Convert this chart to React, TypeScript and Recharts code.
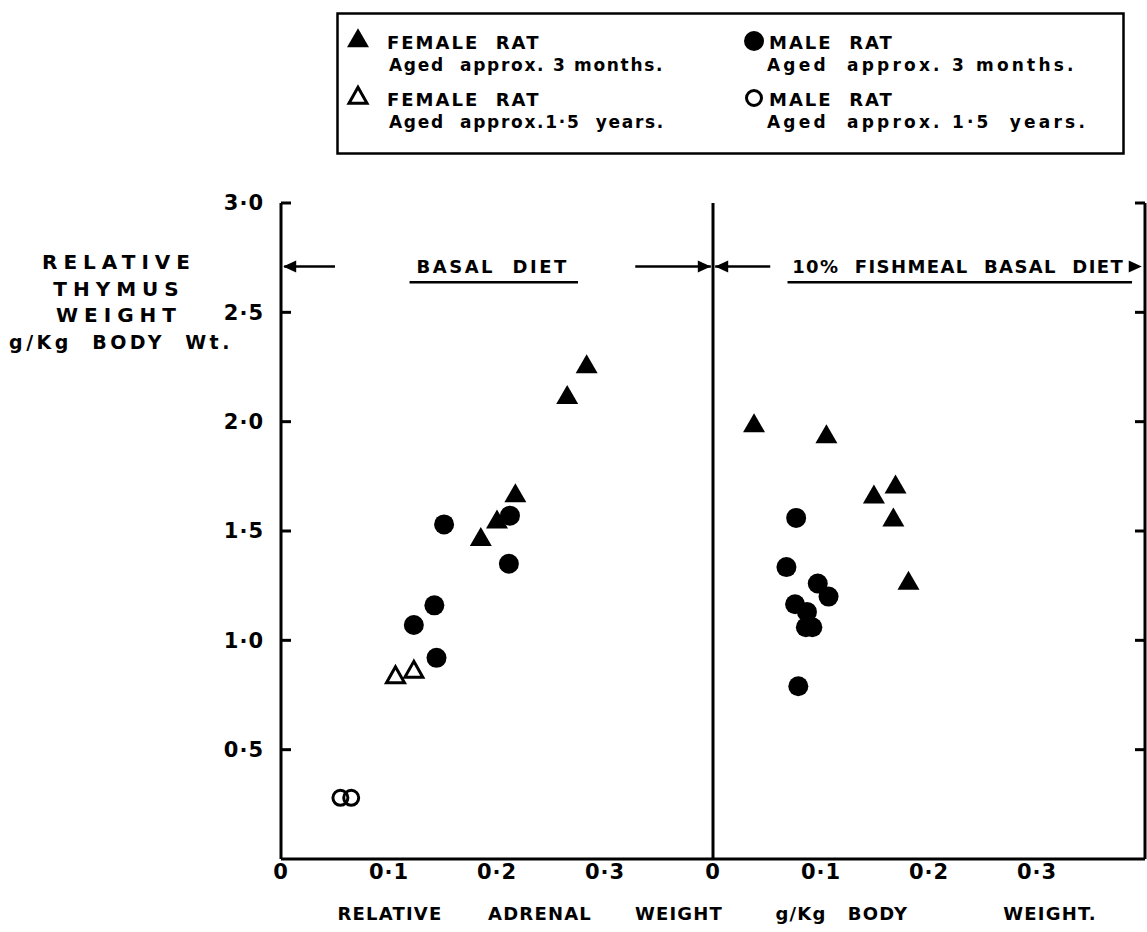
import React from 'react';
import { ScatterChart, Scatter, XAxis, YAxis, ReferenceLine, ReferenceDot, Legend } from 'recharts';

// ---- data (x = relative adrenal weight g/Kg, y = relative thymus weight g/Kg) ----
// panel offset: the fishmeal panel starts where the basal panel's axis ends
const PANEL_OFFSET = 0.4;

const basalFemaleYoung = [
  { x: 0.283, y: 2.25 },
  { x: 0.265, y: 2.11 },
  { x: 0.217, y: 1.66 },
  { x: 0.2, y: 1.54 },
  { x: 0.185, y: 1.46 },
];
const basalMaleYoung = [
  { x: 0.151, y: 1.53 },
  { x: 0.212, y: 1.57 },
  { x: 0.211, y: 1.35 },
  { x: 0.142, y: 1.16 },
  { x: 0.123, y: 1.07 },
  { x: 0.144, y: 0.92 },
];
const basalFemaleOld = [
  { x: 0.106, y: 0.83 },
  { x: 0.123, y: 0.855 },
];
const basalMaleOld = [
  { x: 0.055, y: 0.28 },
  { x: 0.065, y: 0.28 },
];
const fishFemaleYoung = [
  { x: 0.038, y: 1.98 },
  { x: 0.105, y: 1.93 },
  { x: 0.149, y: 1.655 },
  { x: 0.169, y: 1.7 },
  { x: 0.167, y: 1.55 },
  { x: 0.181, y: 1.26 },
];
const fishMaleYoung = [
  { x: 0.077, y: 1.56 },
  { x: 0.068, y: 1.335 },
  { x: 0.097, y: 1.26 },
  { x: 0.107, y: 1.2 },
  { x: 0.076, y: 1.165 },
  { x: 0.087, y: 1.13 },
  { x: 0.086, y: 1.06 },
  { x: 0.092, y: 1.06 },
  { x: 0.079, y: 0.79 },
];

const xTicks = [0, 0.1, 0.2, 0.3, 0.4, 0.5, 0.6, 0.7];
const xInnerTicks = [0.1, 0.2, 0.3, 0.5, 0.6, 0.7];
const yTicks = [0.5, 1, 1.5, 2, 2.5, 3];
const yLabelLines = ['RELATIVE', 'THYMUS', 'WEIGHT', 'g/Kg  BODY  Wt.'];
const xTitleWords = ['RELATIVE', 'ADRENAL', 'WEIGHT', 'g/Kg', 'BODY', 'WEIGHT.'];
const legendEntries = [
  { kind: 'ft', title: 'FEMALE  RAT', sub: 'Aged  approx. 3 months.' },
  { kind: 'fc', title: 'MALE  RAT', sub: 'Aged  approx. 3 months.' },
  { kind: 'ot', title: 'FEMALE  RAT', sub: 'Aged  approx.1·5  years.' },
  { kind: 'oc', title: 'MALE  RAT', sub: 'Aged  approx. 1·5  years.' },
];
const dietLabels = { basal: 'BASAL  DIET', fish: '10%  FISHMEAL  BASAL  DIET' };

const shift = (arr: { x: number; y: number }[]) => arr.map((p) => ({ x: p.x + PANEL_OFFSET, y: p.y }));
const femaleYoungData = [...basalFemaleYoung, ...shift(fishFemaleYoung)];
const maleYoungData = [...basalMaleYoung, ...shift(fishMaleYoung)];

const FONT = '"DejaVu Sans", sans-serif';
const INK = '#000';

const fmtNum = (v: number) => (v === 0 ? '0' : v.toFixed(1).replace('.', '·'));
const fmtX = (v: number) => fmtNum(Math.round((v >= PANEL_OFFSET - 1e-9 ? v - PANEL_OFFSET : v) * 10) / 10);
const blank = () => '';

// ---- marker shapes ----
const TRI_W = 22;
const TRI_H = 19;
const triPoints = (cx: number, cy: number, w: number, h: number) =>
  `${cx},${cy - (2 * h) / 3} ${cx - w / 2},${cy + h / 3} ${cx + w / 2},${cy + h / 3}`;

const FilledTriangle = (p: any) => <polygon points={triPoints(p.cx, p.cy, TRI_W, TRI_H)} fill={INK} />;
const OpenTriangle = (p: any) => (
  <polygon points={triPoints(p.cx, p.cy, 18, 16)} fill="#fff" stroke={INK} strokeWidth={3} strokeLinejoin="miter" />
);
const FilledCircle = (p: any) => <circle cx={p.cx} cy={p.cy} r={10} fill={INK} />;
const OpenCircle = (p: any) => <circle cx={p.cx} cy={p.cy} r={7.5} fill="none" stroke={INK} strokeWidth={3} />;

const markerFor = (kind: string, cx: number, cy: number) => {
  if (kind === 'ft') return <FilledTriangle cx={cx} cy={cy} />;
  if (kind === 'fc') return <FilledCircle cx={cx} cy={cy} />;
  if (kind === 'ot') return <OpenTriangle cx={cx} cy={cy} />;
  return <OpenCircle cx={cx} cy={cy} />;
};

// ---- legend ----
const LegendBox = () => {
  const cols = [
    { marker: 22, title: 51, sub: 53, subSpacing: 1.7 },
    { marker: 418, title: 433, sub: 431, subSpacing: 3.2 },
  ];
  const rows = [
    { title: 30, sub: 53 },
    { title: 87, sub: 110 },
  ];
  return (
    <svg width={790} height={144} style={{ display: 'block' }}>
      <rect x={1.5} y={1.5} width={786} height={140} fill="#fff" stroke={INK} strokeWidth={2.5} />
      {legendEntries.map((e, i) => {
        const c = cols[i % 2];
        const r = rows[Math.floor(i / 2)];
        return (
          <g key={i}>
            {markerFor(e.kind, c.marker, r.title - 1)}
            <text x={c.title} y={r.title + 7} fontFamily={FONT} fontWeight={700} fontSize={18} letterSpacing={2} style={{ whiteSpace: 'pre' }} fill={INK}>
              {e.title}
            </text>
            <text x={c.sub} y={r.sub + 6} fontFamily={FONT} fontWeight={700} fontSize={17} letterSpacing={c.subSpacing} style={{ whiteSpace: 'pre' }} fill={INK}>
              {e.sub}
            </text>
          </g>
        );
      })}
    </svg>
  );
};

// ---- axis titles ----
const YTitle = () => (
  <g>
    {yLabelLines.map((l, i) => (
      <text
        key={i}
        x={i === 3 ? 121 : 119}
        y={269 + i * 26.5}
        fontFamily={FONT}
        fontWeight={700}
        fontSize={i === 3 ? 19 : 20}
        letterSpacing={i === 3 ? 3.5 : 6}
        fill={INK}
        textAnchor="middle"
        style={{ whiteSpace: 'pre' }}
      >
        {l}
      </text>
    ))}
  </g>
);

const xTitleCenters = [390, 540, 679, 801, 878, 1050];
const XTitle = () => (
  <g>
    {xTitleWords.map((w, i) => (
      <text key={i} x={xTitleCenters[i]} y={920} fontFamily={FONT} fontWeight={700} fontSize={18} letterSpacing={1.2} fill={INK} textAnchor="middle">
        {w}
      </text>
    ))}
  </g>
);

// ---- annotation helpers ----
const ARROW_Y = 2.71;
const ArrowHead = (dir: 'left' | 'right') => (p: any) => {
  const { cx, cy } = p;
  const L = 13;
  const H = 6;
  const pts = dir === 'left' ? `${cx},${cy} ${cx + L},${cy - H} ${cx + L},${cy + H}` : `${cx},${cy} ${cx - L},${cy - H} ${cx - L},${cy + H}`;
  return <polygon points={pts} fill={INK} />;
};
const TextAt = (txt: string, spacing: number) => (p: any) => (
  <text x={p.cx} y={p.cy + 7} fontFamily={FONT} fontWeight={700} fontSize={18} letterSpacing={spacing} fill={INK} textAnchor="middle" style={{ whiteSpace: 'pre' }}>
    {txt}
  </text>
);

const axisLineStyle = { stroke: INK, strokeWidth: 3 };
const tickLineStyle = { stroke: INK, strokeWidth: 3 };
const tickText = { fill: INK, fontSize: 21, fontWeight: 700, fontFamily: FONT, letterSpacing: 1 };

export default function App() {
  return (
    <div style={{ position: 'absolute', left: 0, top: 0, width: 1147, height: 932, background: '#fff' }}>
      <ScatterChart width={1147} height={932} margin={{ top: 203, right: 2, bottom: 43, left: 221 }}>
        <XAxis
          xAxisId="main"
          type="number"
          dataKey="x"
          domain={[0, 0.8]}
          allowDataOverflow
          ticks={xTicks}
          interval={0}
          tickFormatter={fmtX}
          tickLine={false}
          tickSize={0}
          tickMargin={5}
          axisLine={axisLineStyle}
          tick={tickText}
          height={30}
          label={<XTitle />}
        />
        <XAxis
          xAxisId="inner"
          type="number"
          domain={[0, 0.8]}
          allowDataOverflow
          ticks={xInnerTicks}
          interval={0}
          mirror
          tickSize={12}
          tickFormatter={blank}
          axisLine={false}
          tickLine={tickLineStyle}
        />
        <YAxis
          yAxisId="main"
          type="number"
          dataKey="y"
          domain={[0, 3]}
          allowDataOverflow
          ticks={yTicks}
          interval={0}
          tickFormatter={fmtNum}
          tickLine={false}
          tickSize={0}
          tickMargin={17}
          axisLine={axisLineStyle}
          tick={tickText}
          width={60}
          label={<YTitle />}
        />
        <YAxis
          yAxisId="innerLeft"
          type="number"
          domain={[0, 3]}
          allowDataOverflow
          ticks={yTicks}
          interval={0}
          mirror
          tickSize={10}
          tickFormatter={blank}
          axisLine={false}
          tickLine={tickLineStyle}
        />
        <YAxis
          yAxisId="right"
          orientation="right"
          type="number"
          domain={[0, 3]}
          allowDataOverflow
          ticks={yTicks}
          interval={0}
          mirror
          tickSize={10}
          tickFormatter={blank}
          axisLine={axisLineStyle}
          tickLine={tickLineStyle}
        />

        <Legend
          verticalAlign="middle"
          align="center"
          layout="horizontal"
          wrapperStyle={{ position: 'absolute', top: 12, left: 336, width: 790, height: 144 }}
          content={() => <LegendBox />}
        />

        {/* panel divider */}
        <ReferenceLine xAxisId="main" yAxisId="main" x={PANEL_OFFSET} stroke={INK} strokeWidth={3} />

        {/* diet arrows */}
        <ReferenceLine xAxisId="main" yAxisId="main" ifOverflow="visible" segment={[{ x: 0.003, y: ARROW_Y }, { x: 0.05, y: ARROW_Y }]} stroke={INK} strokeWidth={2.5} />
        <ReferenceLine xAxisId="main" yAxisId="main" ifOverflow="visible" segment={[{ x: 0.328, y: ARROW_Y }, { x: 0.398, y: ARROW_Y }]} stroke={INK} strokeWidth={2.5} />
        <ReferenceLine xAxisId="main" yAxisId="main" ifOverflow="visible" segment={[{ x: 0.402, y: ARROW_Y }, { x: 0.453, y: ARROW_Y }]} stroke={INK} strokeWidth={2.5} />
        <ReferenceDot xAxisId="main" yAxisId="main" ifOverflow="visible" x={0.002} y={ARROW_Y} shape={ArrowHead('left')} />
        <ReferenceDot xAxisId="main" yAxisId="main" ifOverflow="visible" x={0.398} y={ARROW_Y} shape={ArrowHead('right')} />
        <ReferenceDot xAxisId="main" yAxisId="main" ifOverflow="visible" x={0.402} y={ARROW_Y} shape={ArrowHead('left')} />
        <ReferenceDot xAxisId="main" yAxisId="main" ifOverflow="visible" x={0.797} y={ARROW_Y} shape={ArrowHead('right')} />

        {/* diet labels with underline */}
        <ReferenceDot xAxisId="main" yAxisId="main" ifOverflow="visible" x={0.196} y={ARROW_Y} shape={TextAt(dietLabels.basal, 2.5)} />
        <ReferenceDot xAxisId="main" yAxisId="main" ifOverflow="visible" x={0.627} y={ARROW_Y} shape={TextAt(dietLabels.fish, 1.4)} />
        <ReferenceLine xAxisId="main" yAxisId="main" ifOverflow="visible" segment={[{ x: 0.119, y: ARROW_Y - 0.072 }, { x: 0.275, y: ARROW_Y - 0.072 }]} stroke={INK} strokeWidth={2.5} />
        <ReferenceLine xAxisId="main" yAxisId="main" ifOverflow="visible" segment={[{ x: 0.469, y: ARROW_Y - 0.072 }, { x: 0.788, y: ARROW_Y - 0.072 }]} stroke={INK} strokeWidth={2.5} />

        <Scatter xAxisId="main" yAxisId="main" name="FEMALE RAT (3 months)" data={femaleYoungData} shape={FilledTriangle} isAnimationActive={false} />
        <Scatter xAxisId="main" yAxisId="main" name="MALE RAT (3 months)" data={maleYoungData} shape={FilledCircle} isAnimationActive={false} />
        <Scatter xAxisId="main" yAxisId="main" name="FEMALE RAT (1.5 years)" data={basalFemaleOld} shape={OpenTriangle} isAnimationActive={false} />
        <Scatter xAxisId="main" yAxisId="main" name="MALE RAT (1.5 years)" data={basalMaleOld} shape={OpenCircle} isAnimationActive={false} />
      </ScatterChart>
    </div>
  );
}
